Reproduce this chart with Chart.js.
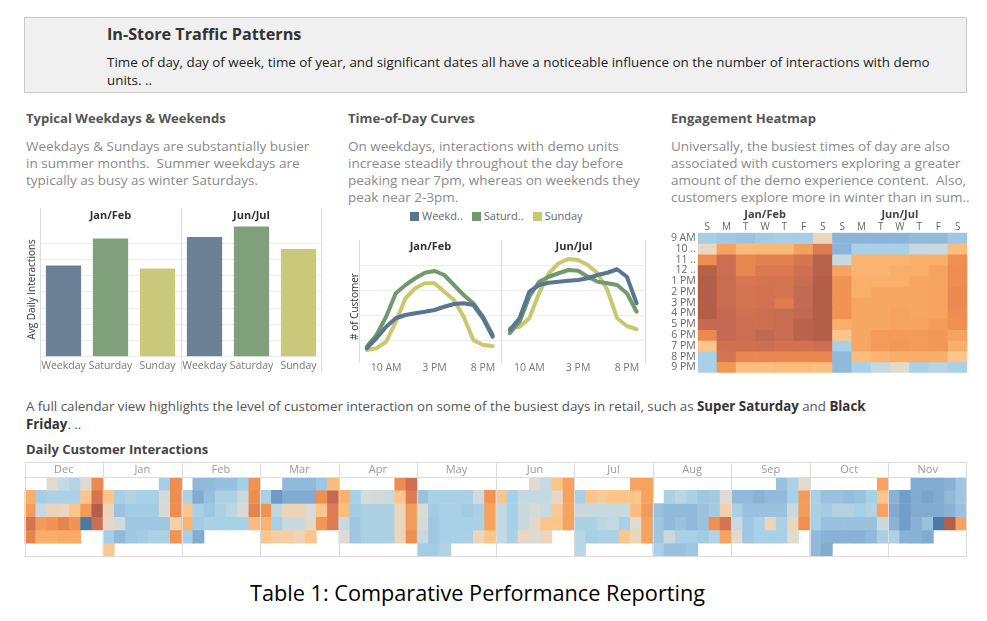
<!DOCTYPE html>
<html><head><meta charset="utf-8">
<script src="https://cdn.jsdelivr.net/npm/chart.js@4.4.1/dist/chart.umd.min.js"></script>
<style>
body{margin:0;background:#fff;width:987px;height:621px;position:relative;overflow:hidden;font-family:'Open Sans',sans-serif;}
.a{position:absolute;white-space:pre;}
.box{position:absolute;}
#hdr{left:24px;top:17px;width:941px;height:74px;background:#f0f0f0;border:1px solid #c9c9c9;}
.ttl{font-weight:bold;font-size:13.1px;color:#555;line-height:18px;}
.dsc{font-size:13.5px;color:#8a8a8a;line-height:17px;}
.lg{display:inline-block;width:9px;height:9px;margin-right:3px;vertical-align:-1px;}
</style></head>
<body>
<div class="box" id="hdr"></div>
<div class="a" style="left:107px;top:24px;font-weight:bold;font-size:16.2px;color:#333;line-height:20px;">In-Store Traffic Patterns</div>
<div class="a" style="left:107px;top:53px;font-size:13.4px;color:#222;line-height:18px;">Time of day, day of week, time of year, and significant dates all have a noticeable influence on the number of interactions with demo
units. ..</div>

<div class="a ttl" style="left:26px;top:109px;">Typical Weekdays &amp; Weekends</div>
<div class="a dsc" style="left:26px;top:137.5px;">Weekdays &amp; Sundays are substantially busier
in summer months.  Summer weekdays are
typically as busy as winter Saturdays.</div>

<div class="a ttl" style="left:348px;top:109px;">Time-of-Day Curves</div>
<div class="a dsc" style="left:348px;top:137.5px;">On weekdays, interactions with demo units
increase steadily throughout the day before
peaking near 7pm, whereas on weekends they
peak near 2-3pm.</div>
<div class="a" id="legend" style="left:410px;top:209px;font-size:11px;color:#666;line-height:14px;"></div>

<div class="a ttl" style="left:671px;top:109px;">Engagement Heatmap</div>
<div class="a dsc" style="left:671px;top:137.5px;">Universally, the busiest times of day are also
associated with customers exploring a greater
amount of the demo experience content.  Also,
customers explore more in winter than in sum..</div>

<div class="box" style="left:24px;top:200px;width:302px;height:176px;"><canvas id="bar"></canvas></div>
<div class="box" style="left:340px;top:232px;width:162px;height:146px;"><canvas id="line1"></canvas></div>
<div class="box" style="left:502px;top:232px;width:144px;height:146px;"><canvas id="line2"></canvas></div>
<div class="box" style="left:660px;top:200px;width:310px;height:176px;"><canvas id="heat"></canvas></div>

<div class="a" style="left:26px;top:397px;font-size:13.3px;color:#555;line-height:18px;">A full calendar view highlights the level of customer interaction on some of the busiest days in retail, such as <b style="color:#333">Super Saturday</b> and <b style="color:#333">Black</b>
<b style="color:#333">Friday</b>. ..</div>
<div class="a" style="left:26px;top:440px;font-weight:bold;font-size:13px;color:#444;line-height:18px;">Daily Customer Interactions</div>
<div class="box" style="left:24px;top:462px;width:944px;height:96px;"><canvas id="cal"></canvas></div>

<div class="a" style="left:0;top:578px;width:955px;text-align:center;font-size:21.7px;color:#000;line-height:30px;">Table 1: Comparative Performance Reporting</div>

<script>
// ---------------- data ----------------
const dayTypes = ['Weekday', 'Saturday', 'Sunday'];
const periods = ['Jan/Feb', 'Jun/Jul'];
const avgJanFeb = [281, 364, 272];
const avgJunJul = [369, 401, 332];

const hours = [8, 9, 10, 11, 12, 13, 14, 15, 16, 17, 18, 19, 20, 21];
const hourTicks = [10, 15, 20];
const weekdayJan = [6.9, 10.9, 15.5, 18.9, 20.2, 20.9, 21.5, 22.2, 23.5, 24.6, 24.9, 24.2, 18.9, 11.5];
const saturdayJan = [7.5, 12.2, 19.5, 28.9, 32.2, 34.9, 37.1, 37.8, 36.2, 32.2, 28.2, 24.9, 19.5, 12.2];
const sundayJan = [6.2, 6.9, 9.5, 17.5, 26.9, 30.9, 32.9, 32.9, 29.5, 26.2, 19.5, 10.2, 8.2, 7.8];
const weekdayJun = [14.2, 18.9, 29.5, 32.2, 33.1, 33.5, 33.9, 34.2, 34.9, 36.2, 37.1, 38.5, 35.5, 24.9];
const saturdayJun = [12.9, 17.5, 27.5, 33.5, 35.5, 36.9, 38.2, 37.9, 35.5, 33.5, 32.9, 32.2, 28.9, 21.5];
const sundayJun = [14.9, 15.5, 18.9, 28.9, 36.9, 40.9, 42.6, 42.2, 40.2, 36.9, 30.2, 18.9, 15.8, 14.5];
const legendNames = ['Weekd..', 'Saturd..', 'Sunday'];

const weekdays = ['S', 'M', 'T', 'W', 'T', 'F', 'S'];
const hourLabels = ['9 AM', '10 ..', '11 ..', '12 ..', '1 PM', '2 PM', '3 PM', '4 PM', '5 PM', '6 PM', '7 PM', '8 PM', '9 PM'];
const heatJanFeb = [
  [35, 33, 31, 34, 35, 35, 54],
  [53, 73, 66, 67, 67, 74, 85],
  [79, 91, 81, 83, 83, 88, 97],
  [97, 91, 81, 86, 86, 90, 97],
  [98, 92, 87, 88, 88, 92, 98],
  [98, 92, 88, 89, 88, 93, 98],
  [98, 92, 88, 89, 85, 93, 98],
  [98, 93, 90, 91, 92, 94, 98],
  [93, 93, 91, 91, 92, 96, 98],
  [80, 93, 91, 94, 92, 96, 98],
  [62, 90, 90, 91, 89, 89, 91],
  [36, 88, 81, 81, 81, 81, 81],
  [36, 76, 64, 64, 65, 65, 64]
];
const heatJunJul = [
  [24, 24, 24, 24, 26, 26, 32],
  [24, 36, 36, 36, 44, 45, 65],
  [45, 68, 68, 68, 70, 70, 78],
  [73, 68, 68, 70, 70, 73, 79],
  [77, 70, 70, 70, 72, 73, 79],
  [77, 70, 72, 72, 72, 73, 80],
  [77, 72, 72, 72, 72, 73, 80],
  [77, 72, 72, 73, 72, 73, 79],
  [70, 72, 72, 73, 73, 75, 78],
  [62, 72, 75, 75, 75, 76, 73],
  [36, 72, 75, 76, 75, 76, 70],
  [26, 65, 68, 70, 70, 70, 62],
  [26, 36, 44, 51, 36, 40, 36]
];

const n = null;
const months = ['Dec', 'Jan', 'Feb', 'Mar', 'Apr', 'May', 'Jun', 'Jul', 'Aug', 'Sep', 'Oct', 'Nov'];
const calDec = [[n,n,50,44,40,50,80],[70,35,37,37,37,62,88],[75,45,55,54,62,75,98],[88,75,77,82,77,4,91],[82,70,70,71,71,n,n],[n,n,n,n,n,n,n]];
const calJan = [[n,n,n,n,n,35,79],[62,35,39,36,36,47,79],[54,30,34,34,34,48,79],[53,47,32,32,32,32,57],[35,26,32,34,37,37,77],[60,n,n,n,n,n,n]];
const calFeb = [[n,26,26,29,29,35,77],[37,20,29,37,37,46,79],[62,36,32,37,41,48,82],[68,34,37,36,36,36,65],[36,20,n,n,n,n,n],[n,n,n,n,n,n,n]];
const calMar = [[n,n,26,26,26,32,65],[36,13,20,20,20,78,93],[77,42,55,55,49,62,85],[68,36,45,45,52,76,85],[62,58,58,55,62,n,n],[n,n,n,n,n,n,n]];
const calApr = [[n,n,n,n,n,79,90],[69,36,48,47,46,62,85],[65,34,37,37,37,54,75],[44,32,37,37,37,54,75],[50,32,37,37,37,54,78],[n,n,n,n,n,n,n]];
const calMay = [[n,n,n,n,n,n,n],[30,36,36,36,36,47,77],[49,34,36,36,34,36,73],[48,32,36,36,36,37,73],[44,32,36,36,37,54,62],[34,34,39,n,n,n,n]];
const calJun = [[n,n,n,50,45,62,73],[62,36,44,44,44,52,73],[44,36,45,48,45,60,73],[44,36,45,52,62,62,73],[44,37,53,49,54,n,n],[n,n,n,n,n,n,n]];
const calJul = [[n,n,n,n,n,73,73],[36,62,59,62,62,62,73],[45,45,45,45,45,65,75],[37,37,41,44,36,50,73],[41,36,37,37,62,54,73],[41,n,n,n,n,n,n]];
const calAug = [[n,n,n,n,n,n,n],[n,37,41,37,32,34,50],[30,26,26,26,30,34,57],[32,26,30,26,30,78,88],[32,45,36,36,34,39,73],[36,30,30,32,n,n,n]];
const calSep = [[n,n,n,n,30,37,51],[26,26,23,26,26,36,75],[36,30,30,30,30,45,75],[45,32,36,54,37,54,78],[50,32,36,36,36,51,n],[n,n,n,n,n,n,n]];
const calOct = [[n,n,n,n,n,n,73],[36,30,30,28,30,36,62],[36,34,39,39,36,39,73],[36,30,30,30,30,30,45],[26,23,23,23,23,26,36],[26,20,n,n,n,n,n]];
const calNov = [[n,n,20,20,20,23,32],[23,14,20,17,20,26,32],[20,14,20,20,20,23,30],[23,14,23,30,4,98,73],[37,23,23,20,n,n,n],[n,n,n,n,n,n,n]];

// ---------------- styles ----------------
const F = "'Open Sans', sans-serif";
Chart.defaults.font.family = F;
Chart.defaults.animation = false;
const barColors = ['#6c8196', '#7fa07b', '#cac87a'];
const lineColors = ['#5a7590', '#72996d', '#c9c76f'];
const stops = [
  [0, [61, 106, 152]], [12, [107, 153, 195]], [24, [140, 180, 216]], [36, [168, 208, 230]],
  [45, [200, 218, 224]], [50, [224, 219, 210]], [56, [241, 210, 176]], [62, [252, 197, 138]],
  [70, [249, 174, 106]], [78, [240, 144, 80]], [86, [220, 120, 80]], [93, [197, 106, 82]], [100, [172, 89, 68]]
];
function colorFor(v) {
  if (v === null || v === undefined) return 'rgba(0,0,0,0)';
  for (let i = 1; i < stops.length; i++) {
    if (v <= stops[i][0]) {
      const [a, ca] = stops[i - 1], [b, cb] = stops[i];
      const t = (v - a) / (b - a);
      return 'rgb(' + ca.map((c, k) => Math.round(c + (cb[k] - c) * t)).join(',') + ')';
    }
  }
  return 'rgb(' + stops[stops.length - 1][1].join(',') + ')';
}

const framePlugin = {
  id: 'frame',
  afterDatasetsDraw(chart, args, o) {
    if (!o || !o.panes) return;
    const ctx = chart.ctx, a = chart.chartArea;
    ctx.save();
    ctx.strokeStyle = o.color || '#d9d9d9';
    ctx.lineWidth = 1;
    const w = (a.right - a.left) / o.panes;
    const i0 = o.skipFirst ? 1 : 0, i1 = o.skipLast ? o.panes - 1 : o.panes;
    for (let i = i0; i <= i1; i++) {
      const x = Math.round(a.left + i * w) + (i === o.panes ? -0.5 : 0.5);
      ctx.beginPath(); ctx.moveTo(x, o.top || 0); ctx.lineTo(x, o.bottom === undefined ? chart.height : o.bottom); ctx.stroke();
    }
    (o.hLines || []).forEach(k => {
      const y = k === 'top' ? 0.5 : (k === 'chartTop' ? Math.round(a.top) + 0.5 : Math.round(a.bottom) - 0.5);
      ctx.beginPath(); ctx.moveTo(a.left, y); ctx.lineTo(a.right, y); ctx.stroke();
    });
    ctx.restore();
  }
};
Chart.register(framePlugin);

const noPlug = { legend: { display: false }, tooltip: { enabled: false } };
const noGrid = { display: false, drawTicks: false };
function fixSize(prop, v) {
  return function (s) { s[prop] = v; s.paddingTop = 0; s.paddingBottom = 0; s.paddingLeft = 0; s.paddingRight = 0; };
}

// legend
document.getElementById('legend').innerHTML = legendNames.map((t, i) =>
  '<span style="margin-right:9px"><span class="lg" style="background:' + lineColors[i] + '"></span>' + t + '</span>').join('');

// ---------------- bar chart ----------------
new Chart(document.getElementById('bar'), {
  type: 'bar',
  data: {
    labels: [...dayTypes, ...dayTypes],
    datasets: [{
      data: [...avgJanFeb, ...avgJunJul],
      backgroundColor: [...barColors, ...barColors],
      barPercentage: 0.75, categoryPercentage: 1
    }]
  },
  options: {
    responsive: true, maintainAspectRatio: false,
    layout: { padding: { right: 4, left: 0, top: 0, bottom: 0 } },
    plugins: { ...noPlug, frame: { panes: 2, top: 8, bottom: 172, color: '#dcdcdc' } },
    scales: {
      x: {
        grid: noGrid, border: { display: false },
        ticks: { color: '#777', font: { size: 10.5 }, padding: 3, maxRotation: 0, autoSkip: false },
        afterFit: fixSize('height', 19.3)
      },
      x2: {
        type: 'category', labels: periods, position: 'top', offset: true,
        grid: noGrid, border: { display: false },
        ticks: { color: '#333', font: { size: 11, weight: 'bold' }, padding: 0 },
        afterFit: fixSize('height', 22)
      },
      y: {
        min: 0, max: 415,
        afterBuildTicks(s) { s.ticks = s.ticks.filter(t => t.value % 50 === 0); },
        ticks: { display: false, stepSize: 50 },
        grid: { color: '#ededed', drawTicks: false }, border: { display: false },
        title: { display: true, text: 'Avg Daily Interactions', color: '#333', font: { size: 10 }, padding: { top: 2, bottom: 0 } },
        afterFit: fixSize('width', 16)
      }
    }
  }
});

// ---------------- line charts ----------------
function lineSets(w, s, su) {
  return [w, s, su].map((d, i) => ({
    label: dayTypes[i], data: d, borderColor: lineColors[i], backgroundColor: lineColors[i],
    borderWidth: 4, pointRadius: 0, tension: 0, fill: false, borderJoinStyle: 'round', borderCapStyle: 'round'
  }));
}
function hourName(h) { return h < 12 ? h + ' AM' : (h === 12 ? '12 PM' : (h - 12) + ' PM'); }
function lineOptions(period, first) {
  return {
    responsive: true, maintainAspectRatio: false,
    layout: { padding: 0 },
    plugins: { ...noPlug, frame: { panes: 1, top: 8, bottom: 131, color: '#dcdcdc', skipFirst: false } },
    scales: {
      x: {
        type: 'linear', min: 7.2, max: 21.96,
        afterBuildTicks(s) { s.ticks = hourTicks.map(v => ({ value: v })); },
        ticks: { color: '#777', font: { size: 10.5 }, padding: 4, maxRotation: 0, callback: v => hourName(v) },
        grid: noGrid, border: { display: false },
        afterFit: fixSize('height', 20)
      },
      x2: {
        type: 'category', labels: [period], position: 'top', offset: true,
        grid: noGrid, border: { display: false },
        ticks: { color: '#333', font: { size: 11, weight: 'bold' }, padding: 2 },
        afterFit: fixSize('height', 23)
      },
      y: {
        min: 3, max: 44.2,
        afterBuildTicks(s) { s.ticks = [10, 20, 30, 40].map(v => ({ value: v })); },
        ticks: { display: false },
        grid: { color: '#ededed', drawTicks: false }, border: { display: false },
        title: { display: first, text: '# of Customer', color: '#333', font: { size: 10 }, padding: { top: 9, bottom: 0 } },
        afterFit: fixSize('width', first ? 19 : 0)
      }
    }
  };
}
new Chart(document.getElementById('line1'), {
  type: 'line',
  data: { labels: hours, datasets: lineSets(weekdayJan, saturdayJan, sundayJan) },
  options: lineOptions(periods[0], true)
});
const o2 = lineOptions(periods[1], false);
o2.plugins.frame.skipFirst = true;
new Chart(document.getElementById('line2'), {
  type: 'line',
  data: { labels: hours, datasets: lineSets(weekdayJun, saturdayJun, sundayJun) },
  options: o2
});

// ---------------- heatmap ----------------
const heatSets = hourLabels.map((h, r) => {
  const vals = [...heatJanFeb[r], ...heatJunJul[r]];
  return {
    data: vals.map(() => [r, r + 1]),
    backgroundColor: vals.map(colorFor),
    grouped: false, barPercentage: 1, categoryPercentage: 1, borderWidth: 0
  };
});
new Chart(document.getElementById('heat'), {
  type: 'bar',
  data: { labels: [...weekdays, ...weekdays], datasets: heatSets },
  options: {
    responsive: true, maintainAspectRatio: false,
    layout: { padding: { right: 2.7, bottom: 3.3 } },
    plugins: { ...noPlug },
    scales: {
      x: {
        position: 'top', weight: 0,
        grid: noGrid, border: { display: false },
        ticks: { color: '#666', font: { size: 10 }, padding: 0, maxRotation: 0, autoSkip: false },
        afterFit: fixSize('height', 11.7)
      },
      x2: {
        type: 'category', labels: periods, position: 'top', offset: true, weight: 1,
        grid: noGrid, border: { display: false },
        ticks: { color: '#444', font: { size: 11, weight: 'bold' }, padding: 0 },
        afterFit: fixSize('height', 21)
      },
      y: {
        min: 0, max: hourLabels.length, reverse: true,
        afterBuildTicks(s) { s.ticks = hourLabels.map((h, i) => ({ value: i + 0.5 })); },
        ticks: { color: '#666', font: { size: 10.5 }, padding: 2, autoSkip: false, callback: v => hourLabels[Math.floor(v)] },
        grid: noGrid, border: { display: false },
        afterFit: fixSize('width', 37.7)
      }
    }
  }
});

// ---------------- calendar ----------------
const calMonths = [calDec, calJan, calFeb, calMar, calApr, calMay, calJun, calJul, calAug, calSep, calOct, calNov];
const calLabels = months.flatMap(m => weekdays.map((d, i) => m + ' ' + i));
const calSets = [0, 1, 2, 3, 4, 5].map(r => {
  const vals = calMonths.flatMap(g => g[r]);
  return {
    data: vals.map(v => v === null ? null : [r, r + 1]),
    backgroundColor: vals.map(colorFor),
    grouped: false, barPercentage: 1, categoryPercentage: 1, borderWidth: 0
  };
});
new Chart(document.getElementById('cal'), {
  type: 'bar',
  data: { labels: calLabels, datasets: calSets },
  options: {
    responsive: true, maintainAspectRatio: false,
    layout: { padding: { left: 0.5, right: 1, bottom: 1.5 } },
    plugins: { ...noPlug, frame: { panes: 12, top: 0, color: '#dcdcdc', hLines: ['top', 'chartTop', 'bottom'] } },
    scales: {
      x: { display: false },
      x2: {
        type: 'category', labels: months, position: 'top', offset: true,
        grid: noGrid, border: { display: false },
        ticks: { color: '#999', font: { size: 11 }, padding: 1 },
        afterFit: fixSize('height', 15)
      },
      y: { display: false, min: 0, max: 6, reverse: true }
    }
  }
});
</script>
</body></html>
